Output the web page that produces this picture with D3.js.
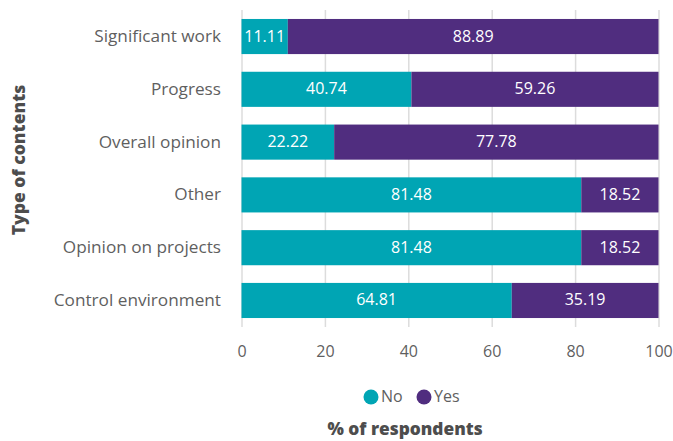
<!DOCTYPE html>
<html>
<head>
<meta charset="utf-8">
<script src="https://cdn.jsdelivr.net/npm/d3@7"></script>
<style>
  html, body { margin: 0; padding: 0; background: #fff; }
  svg text { font-family: "Open Sans", "Noto Sans", sans-serif; }
</style>
</head>
<body>
<svg id="chart" width="673" height="441"></svg>
<script>
// Share of respondents (%) per type of content
const categories = ["Significant work", "Progress", "Overall opinion", "Other", "Opinion on projects", "Control environment"];
const noValues  = [11.11, 40.74, 22.22, 81.48, 81.48, 64.81];
const yesValues = [88.89, 59.26, 77.78, 18.52, 18.52, 35.19];
const xTicks = [0, 20, 40, 60, 80, 100];
const seriesNames = ["No", "Yes"];
const seriesColors = ["#00a5b4", "#502d7f"];

const svg = d3.select("#chart");
const margin = { left: 241.5, right: 14.5, top: 10 };
const W = 673;
const plotBottom = 327;
const textColor = "#5f5f5f";
const titleColor = "#4d4d4d";

const x = d3.scaleLinear().domain([0, 100]).range([margin.left, W - margin.right]);
const y = d3.scaleBand().domain(categories).range([margin.top, plotBottom]).paddingInner(0.335).paddingOuter(0.17);

// vertical gridlines with tick stubs below the plot
const grid = svg.append("g")
  .attr("transform", `translate(0,${plotBottom})`)
  .call(d3.axisBottom(x).tickValues(xTicks).tickSize(-(plotBottom - margin.top)).tickSizeOuter(0).tickPadding(16));
grid.select(".domain").remove();
grid.selectAll(".tick line").attr("stroke", "#dcdcdc").attr("stroke-width", 1.5);
grid.selectAll(".tick text").attr("fill", textColor).attr("font-size", 16).attr("dy", "0.85em");

// stacked bars
const rows = categories.map((c, i) => ({ cat: c, vals: [noValues[i], yesValues[i]] }));
rows.forEach(r => {
  let acc = 0;
  r.vals.forEach((v, k) => {
    const x0 = acc, x1 = acc + v;
    svg.append("rect")
      .attr("x", x(x0)).attr("y", y(r.cat))
      .attr("width", x(x1) - x(x0)).attr("height", y.bandwidth())
      .attr("fill", seriesColors[k]);
    svg.append("text")
      .attr("x", (x(x0) + x(x1)) / 2).attr("y", y(r.cat) + y.bandwidth() / 2 - 1)
      .attr("text-anchor", "middle").attr("dominant-baseline", "central")
      .attr("fill", "#fff").attr("font-size", 16)
      .text(v.toFixed(2));
    acc = x1;
  });
});

// category labels
svg.append("g").selectAll("text").data(categories).join("text")
  .attr("x", 221).attr("y", d => y(d) + y.bandwidth() / 2 - 1)
  .attr("text-anchor", "end").attr("dominant-baseline", "central")
  .attr("fill", textColor).attr("font-size", 17.2)
  .text(d => d);

// y-axis title
svg.append("text")
  .attr("transform", "translate(18,160) rotate(-90)")
  .attr("text-anchor", "middle").attr("dominant-baseline", "central")
  .attr("font-size", 17.5).attr("font-weight", 800)
  .attr("fill", titleColor).text("Type of contents");

// legend
const legend = svg.append("g").attr("transform", "translate(0,397)");
const legendX = [371, 424];
seriesNames.forEach((n, k) => {
  legend.append("circle").attr("cx", legendX[k]).attr("cy", 0).attr("r", 7.5).attr("fill", seriesColors[k]);
  legend.append("text").attr("x", legendX[k] + 10).attr("y", -1).attr("dominant-baseline", "central")
    .attr("font-size", 16).attr("fill", textColor).text(n);
});

// x-axis title
svg.append("text")
  .attr("x", 405).attr("y", 428).attr("text-anchor", "middle").attr("dominant-baseline", "central")
  .attr("font-size", 17.3).attr("font-weight", 800).attr("fill", titleColor)
  .text("% of respondents");
</script>
</body>
</html>
